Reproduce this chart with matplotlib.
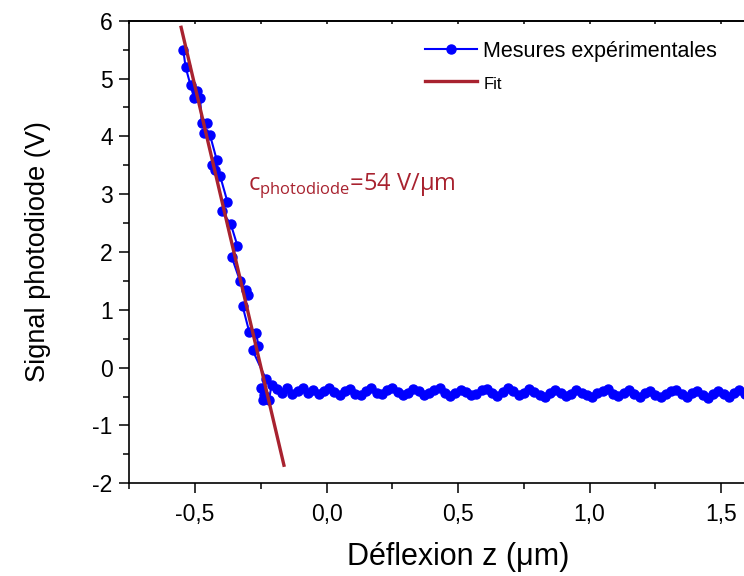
import matplotlib
matplotlib.use("Agg")
import matplotlib.pyplot as plt
from matplotlib.ticker import MultipleLocator, FuncFormatter

plt.rcParams['font.family'] = ['Liberation Sans', 'DejaVu Sans']
plt.rcParams['axes.unicode_minus'] = False

# descending part (contact)
slope_x = [-0.545, -0.536, -0.517, -0.504, -0.494, -0.481, -0.475, -0.456, -0.466, -0.443,
           -0.418, -0.437, -0.424, -0.405, -0.377, -0.399, -0.364, -0.339, -0.361, -0.329,
           -0.306, -0.298, -0.319, -0.294, -0.268, -0.259, -0.281, -0.230, -0.250, -0.238,
           -0.240, -0.219, -0.209]
slope_y = [5.50, 5.20, 4.88, 4.67, 4.79, 4.67, 4.24, 4.24, 4.06, 4.02,
           3.60, 3.51, 3.42, 3.32, 2.87, 2.71, 2.48, 2.11, 1.92, 1.50,
           1.34, 1.25, 1.06, 0.62, 0.60, 0.38, 0.30, -0.20, -0.36, -0.48,
           -0.56, -0.56, -0.30]

# flat part (no contact)
flat_x = [-0.19, -0.17, -0.15, -0.13, -0.11, -0.09, -0.07, -0.05, -0.03, -0.01,
          0.01, 0.03, 0.05, 0.07, 0.09, 0.11, 0.13, 0.15, 0.17, 0.19,
          0.21, 0.23, 0.25, 0.27, 0.29, 0.31, 0.33, 0.35, 0.37, 0.39,
          0.41, 0.43, 0.45, 0.47, 0.49, 0.51, 0.53, 0.55, 0.57, 0.59,
          0.61, 0.63, 0.65, 0.67, 0.69, 0.71, 0.73, 0.75, 0.77, 0.79,
          0.81, 0.83, 0.85, 0.87, 0.89, 0.91, 0.93, 0.95, 0.97, 0.99,
          1.01, 1.03, 1.05, 1.07, 1.09, 1.11, 1.13, 1.15, 1.17, 1.19,
          1.21, 1.23, 1.25, 1.27, 1.29, 1.31, 1.33, 1.35, 1.37, 1.39,
          1.41, 1.43, 1.45, 1.47, 1.49, 1.51, 1.53, 1.55, 1.57, 1.59]
flat_y = [-0.37, -0.43, -0.35, -0.45, -0.40, -0.36, -0.44, -0.38, -0.46, -0.41,
          -0.35, -0.42, -0.47, -0.40, -0.37, -0.45, -0.48, -0.41, -0.36, -0.44,
          -0.46, -0.38, -0.35, -0.42, -0.48, -0.43, -0.37, -0.41, -0.47, -0.44,
          -0.38, -0.36, -0.43, -0.49, -0.44, -0.39, -0.42, -0.48, -0.45, -0.38,
          -0.37, -0.44, -0.49, -0.42, -0.36, -0.41, -0.47, -0.43, -0.37, -0.42,
          -0.48, -0.50, -0.43, -0.38, -0.44, -0.49, -0.45, -0.39, -0.43, -0.48,
          -0.51, -0.44, -0.40, -0.37, -0.45, -0.49, -0.43, -0.39, -0.46, -0.50,
          -0.44, -0.40, -0.47, -0.51, -0.45, -0.41, -0.38, -0.46, -0.50, -0.44,
          -0.40, -0.47, -0.52, -0.46, -0.41, -0.45, -0.50, -0.43, -0.39, -0.46]

fit_x = [-0.553, -0.162]
fit_y = [5.886, -1.687]

red = '#A8222F'

fig = plt.figure(figsize=(7.44, 5.76), dpi=100)
# axes continue past the right edge of the picture (cropped original)
ax = fig.add_axes([0.1738, 0.1609, 0.8837, 0.8031])

ax.plot(slope_x + flat_x, slope_y + flat_y, color='#0000FF', lw=1.5,
        marker='o', ms=6.5, label='Mesures expérimentales', zorder=2)
ax.plot(fit_x, fit_y, color=red, lw=2.4, label='Fit', zorder=3)

ax.set_xlim(-0.75, 1.75)
ax.set_ylim(-2, 6)

ax.xaxis.set_major_locator(MultipleLocator(0.5))
ax.xaxis.set_minor_locator(MultipleLocator(0.25))
ax.yaxis.set_major_locator(MultipleLocator(1))
ax.yaxis.set_minor_locator(MultipleLocator(0.5))
ax.xaxis.set_major_formatter(FuncFormatter(lambda v, p: f'{v:.1f}'.replace('.', ',')))
ax.yaxis.set_major_formatter(FuncFormatter(lambda v, p: f'{v:.0f}'))

ax.tick_params(axis='both', which='major', direction='out', length=7, width=1.1,
               labelsize=16.5, pad=5)
ax.tick_params(axis='both', which='minor', direction='out', length=4, width=1.1)
ax.tick_params(axis='x', which='major', pad=7)

# short inward ticks on the top edge
top = ax.secondary_xaxis('top')
top.xaxis.set_major_locator(MultipleLocator(0.5))
top.xaxis.set_minor_locator(MultipleLocator(0.25))
top.tick_params(which='both', direction='in', length=2.5, width=1.1, labeltop=False)
top.spines['top'].set_linewidth(1.2)

for s in ax.spines.values():
    s.set_linewidth(1.2)
ax.spines['right'].set_visible(False)

ax.set_xlabel('Déflexion z (μm)', fontsize=22, labelpad=12)
ax.set_ylabel('Signal photodiode (V)', fontsize=19.5, labelpad=30)

ax.text(-0.30, 3.07, r'c$_\mathregular{photodiode}$=54 V/μm', color=red,
        fontsize=17, family=['Open Sans', 'DejaVu Sans'], va='baseline')

leg = ax.legend(loc='upper left', bbox_to_anchor=(425 / 744, 1 - 41 / 576),
                bbox_transform=fig.transFigure, frameon=False, fontsize=15.5,
                handlelength=2.4, handletextpad=0.3, labelspacing=0.55,
                borderpad=0, borderaxespad=0)
leg.get_texts()[1].set_fontsize(12)

fig.savefig('out.png', dpi=100)
